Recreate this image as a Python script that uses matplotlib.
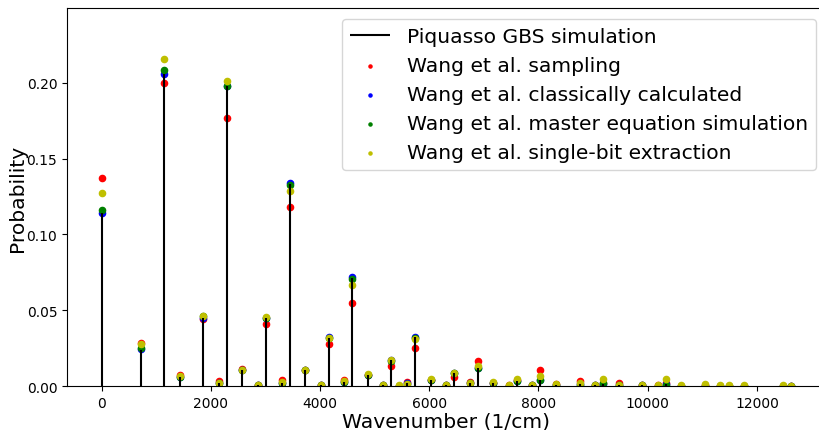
from matplotlib import pyplot as plt
import numpy as np

# peak positions (1/cm)
wavenumber = [0, 716, 1148, 1432, 1864, 2148, 2296, 2580, 2864, 3012,
              3296, 3444, 3728, 4012, 4160, 4444, 4592, 4876, 5160, 5308,
              5444, 5592, 5740, 6024, 6308, 6456, 6740, 6888, 7172, 7456,
              7604, 7888, 8036, 8320, 8752, 9036, 9184, 9468, 9900, 10184,
              10332, 10616, 11048, 11332, 11480, 11764, 12480, 12632]

piquasso = [0.114, 0.024, 0.206, 0.0058, 0.045, 0.0018, 0.198, 0.0105, 0.0004, 0.0448,
            0.0022, 0.133, 0.0105, 0.0004, 0.0318, 0.0028, 0.0715, 0.0075, 0.0004, 0.017,
            0.0003, 0.0017, 0.0322, 0.0040, 0.0004, 0.0085, 0.0018, 0.0120, 0.0018, 0.0003,
            0.0035, 0.0004, 0.0040, 0.0010, 0.0012, 0.0005, 0.0016, 0.0006, 0.0004, 0.0003,
            0.0012, 0.0002, 0.0002, 0.0001, 0.0002, 0.0001, 0.0001, 0.0001]

sampling = [0.137, 0.0287, 0.200, 0.0075, 0.0441, 0.0032, 0.1768, 0.0113, 0.0005, 0.0406,
            0.0041, 0.118, 0.0108, 0.0004, 0.0276, 0.0042, 0.055, 0.0074, 0.0005, 0.0134,
            0.0003, 0.0029, 0.0252, 0.0038, 0.0005, 0.0062, 0.0024, 0.0166, 0.0020, 0.0004,
            0.0040, 0.0005, 0.0103, 0.0012, 0.0030, 0.0006, 0.0020, 0.0018, 0.0006, 0.0005,
            0.0022, 0.0003, 0.0005, 0.0002, 0.0003, 0.0002, 0.0001, 0.0001]

classical = [0.114, 0.0243, 0.206, 0.0058, 0.0452, 0.0018, 0.198, 0.0105, 0.0004, 0.0449,
             0.0022, 0.1336, 0.0106, 0.0004, 0.0322, 0.0028, 0.0717, 0.0075, 0.0004, 0.0171,
             0.0003, 0.0017, 0.0324, 0.0040, 0.0004, 0.0085, 0.0018, 0.0121, 0.0018, 0.0003,
             0.0036, 0.0004, 0.0041, 0.0010, 0.0012, 0.0005, 0.0016, 0.0006, 0.0004, 0.0003,
             0.0012, 0.0002, 0.0002, 0.0001, 0.0002, 0.0001, 0.0001, 0.0001]

master_eq = [0.116, 0.0248, 0.2086, 0.0057, 0.046, 0.0017, 0.1982, 0.0104, 0.0004, 0.0452,
             0.0021, 0.1327, 0.0104, 0.0004, 0.0318, 0.0027, 0.0708, 0.0073, 0.0004, 0.0168,
             0.0003, 0.0016, 0.0315, 0.0039, 0.0004, 0.0084, 0.0017, 0.0118, 0.0017, 0.0003,
             0.0033, 0.0004, 0.0042, 0.0010, 0.0010, 0.0005, 0.0017, 0.0006, 0.0004, 0.0003,
             0.0010, 0.0002, 0.0002, 0.0001, 0.0003, 0.0001, 0.0001, 0.0001]

single_bit = [0.127, 0.0274, 0.2156, 0.0064, 0.0465, 0.0021, 0.2015, 0.0109, 0.0005, 0.0454,
              0.0028, 0.1285, 0.0107, 0.0004, 0.0314, 0.0030, 0.0664, 0.0077, 0.0005, 0.0174,
              0.0004, 0.0015, 0.0308, 0.0046, 0.0007, 0.0089, 0.0018, 0.0135, 0.0024, 0.0005,
              0.0046, 0.0006, 0.0069, 0.0016, 0.0023, 0.0008, 0.0046, 0.0010, 0.0010, 0.0008,
              0.0046, 0.0005, 0.0016, 0.0007, 0.0004, 0.0007, 0.0004, 0.0003]

fig = plt.figure(figsize=(8.19, 4.31), dpi=100)
ax = fig.add_axes([0.0818, 0.102, 0.9267, 0.876])

ax.vlines(wavenumber, 0, piquasso, color='k', linewidth=1.5,
          label='Piquasso GBS simulation')
ax.scatter(wavenumber, sampling, s=20, color='r', label='Wang et al. sampling')
ax.scatter(wavenumber, classical, s=20, color='b',
           label='Wang et al. classically calculated')
ax.scatter(wavenumber, master_eq, s=20, color='g',
           label='Wang et al. master equation simulation')
ax.scatter(wavenumber, single_bit, s=20, color='y',
           label='Wang et al. single-bit extraction')

ax.set_xlim(-632, 13264)
ax.set_ylim(0, 0.249)
ax.set_xlabel('Wavenumber (1/cm)', fontsize=14.6, labelpad=1)
ax.set_ylabel('Probability', fontsize=14.6, labelpad=0)
ax.legend(loc='upper right', fontsize=14.6, markerscale=0.5)

fig.savefig('out.png', dpi=100)
